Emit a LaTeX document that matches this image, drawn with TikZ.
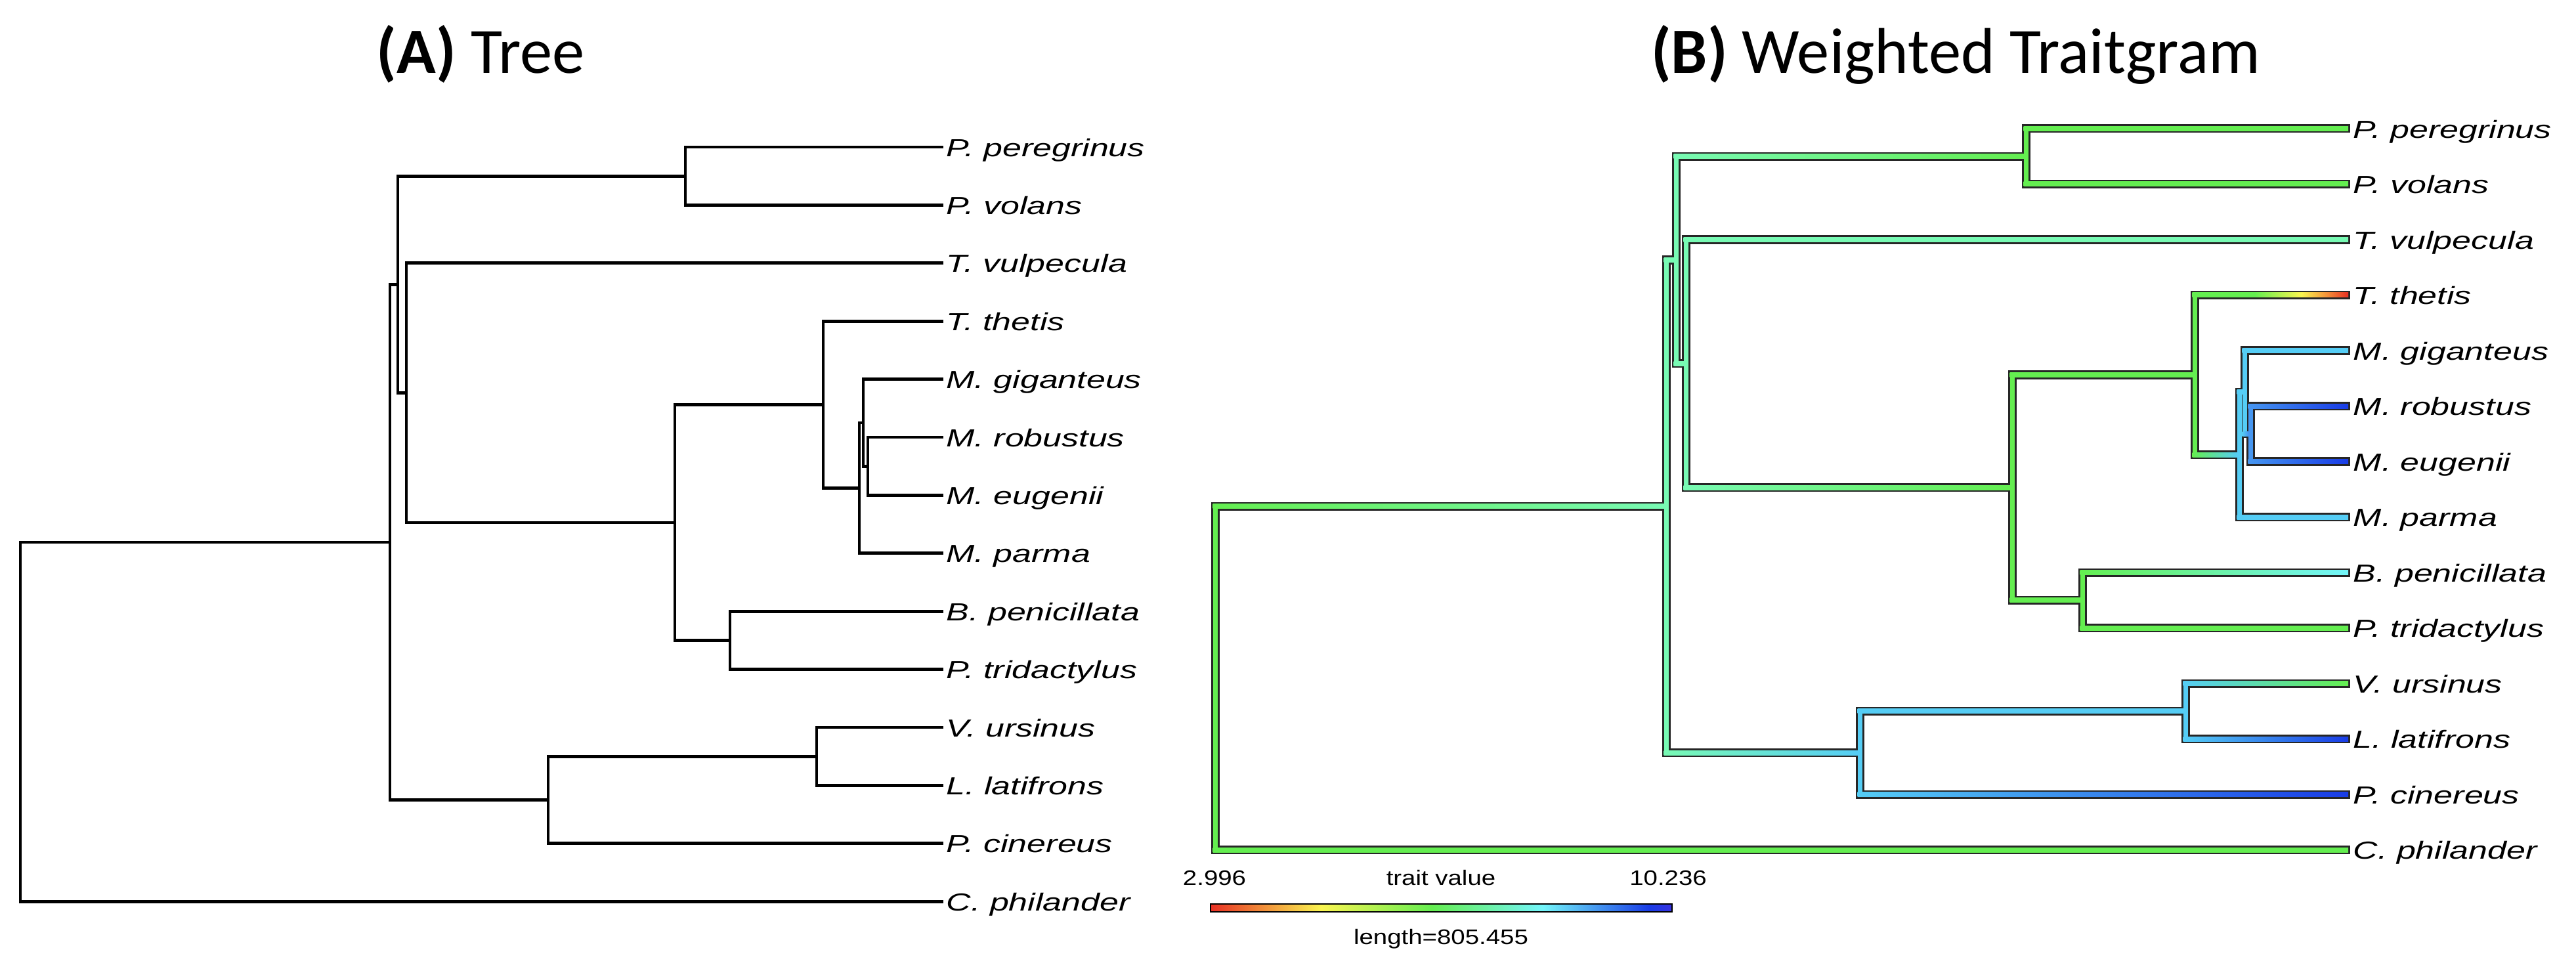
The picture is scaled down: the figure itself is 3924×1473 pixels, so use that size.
\documentclass[tikz,border=0pt]{standalone}
\usepackage{fontspec}
\usepackage{tikz}
\usetikzlibrary{calc}
\newfontfamily\titlefont{Carlito}
\newfontfamily\tipfont[FakeStretch=1.38]{Liberation Sans}
\newfontfamily\keyfont[FakeStretch=1.2]{Liberation Sans}

\definecolor{cRed}{RGB}{232,48,36}
\definecolor{cOrange}{RGB}{245,160,60}
\definecolor{cYellow}{RGB}{250,245,80}
\definecolor{cGreen}{RGB}{100,238,80}
\definecolor{cMint}{RGB}{120,250,180}
\definecolor{cCyan}{RGB}{115,245,250}
\definecolor{cSky}{RGB}{85,205,245}
\definecolor{cAzure}{RGB}{70,150,240}
\definecolor{cBlue}{RGB}{25,60,230}
\definecolor{cViolet}{RGB}{55,50,225}

\pgfdeclarehorizontalshading{traitbar}{100bp}{color(0bp)=(cRed); color(25bp)=(cRed);
  color(37bp)=(cYellow); color(49bp)=(cGreen); color(61bp)=(cCyan);
  color(72.5bp)=(cBlue); color(75bp)=(cViolet); color(100bp)=(cViolet)}
\pgfdeclarehorizontalshading{thetisfade}{100bp}{color(0bp)=(cGreen); color(45bp)=(cGreen);
  color(60bp)=(cYellow); color(67bp)=(cOrange); color(75bp)=(cRed); color(100bp)=(cRed)}

% coloured fill of one traitgram edge: parent, child, parent colour, child colour
\newcommand{\tgedge}[4]{%
  \fill[#3] ($(#1)+(-3.5,0)$) rectangle ($(#1 |- #2)+(3.5,0)$);
  \shade[left color=#3, right color=#4] ($(#1 |- #2)+(-3.5,-3.5)$) rectangle ($(#2)+(-3,3.5)$);
}

\begin{document}
\begin{tikzpicture}[x=0.01cm, y=-0.01cm,
    branch/.style={line width=1.35pt},
    tgline/.style={line width=0.13cm, black!85},
    tiplabel/.style={anchor=base west, inner sep=0, xshift=0.04cm, yshift=-0.14cm,
      font=\tipfont\itshape\fontsize{10.7}{12}\selectfont},
    keylabel/.style={anchor=base, inner sep=0, font=\keyfont\fontsize{9.1}{11}\selectfont},
    paneltitle/.style={anchor=base, inner sep=0, font=\titlefont\fontsize{28}{30}\selectfont}]
  \useasboundingbox (0,0) rectangle (3924,1473);

  %--- Titles
  \node[paneltitle] (ta) at (732,112) {\textbf{(A)} Tree};
  \node[paneltitle] (tb) at (2979,112) {\textbf{(B)} Weighted Traitgram};

  %--- tips and labels of both panels
  \foreach \t/\name [count=\i from 0] in {pper/P. peregrinus, pvol/P. volans, tvul/T. vulpecula,
      tthe/T. thetis, mgig/M. giganteus, mrob/M. robustus, meug/M. eugenii, mpar/M. parma,
      bpen/B. penicillata, ptri/P. tridactylus, vurs/V. ursinus, llat/L. latifrons,
      pcin/P. cinereus, cphi/C. philander} {
    \coordinate (a-\t) at (1437,{224+88.4*\i});
    \node[tiplabel] (la-\t) at (a-\t) {\name};
    \coordinate (b-\t) at (3580,{196+84.5*\i});
    \node[tiplabel] (lb-\t) at (b-\t) {\name};
  }

  %--- (A) internal nodes
  \coordinate (a-root) at (31,1099.6);
  \coordinate (a-n1)   at (594,825.9);
  \coordinate (a-n2)   at (606,433.3);
  \coordinate (a-n3)   at (619,598.3);
  \coordinate (a-pp)   at (1044,268.2);
  \coordinate (a-n4)   at (1028,795.9);
  \coordinate (a-n5)   at (1254,616.3);
  \coordinate (a-n6)   at (1309,743.4);
  \coordinate (a-n7)   at (1315,643.9);
  \coordinate (a-n8)   at (1322,710.2);
  \coordinate (a-nbp)  at (1112,975.4);
  \coordinate (a-n9)   at (835,1218.5);
  \coordinate (a-n10)  at (1244,1152.2);

  %--- (B) internal nodes
  \coordinate (b-root) at (1851,1032.9);
  \coordinate (b-n1)   at (2538,771.3);
  \coordinate (b-n2)   at (2553,396.0);
  \coordinate (b-n3)   at (2568,553.8);
  \coordinate (b-pp)   at (3086,238.3);
  \coordinate (b-n4)   at (3065,742.6);
  \coordinate (b-n5)   at (3343,571.0);
  \coordinate (b-n6)   at (3411,692.5);
  \coordinate (b-n7)   at (3419,597.4);
  \coordinate (b-n8)   at (3428,660.8);
  \coordinate (b-nbp)  at (3172,914.3);
  \coordinate (b-n9)   at (2833,1146.6);
  \coordinate (b-n10)  at (3329,1083.3);

  %--- (A) tree
  \foreach \p/\c in {root/n1, root/cphi, n1/n2, n1/n9, n2/pp, n2/n3, pp/pper, pp/pvol,
      n3/tvul, n3/n4, n4/n5, n4/nbp, n5/tthe, n5/n6, n6/n7, n6/mpar, n7/mgig, n7/n8,
      n8/mrob, n8/meug, nbp/bpen, nbp/ptri, n9/n10, n9/pcin, n10/vurs, n10/llat}
    \draw[branch] (a-\p) |- (a-\c);

  %--- (B) outlines first, then colours
  \foreach \p/\c in {root/n1, root/cphi, n1/n2, n1/n9, n2/pp, n2/n3, pp/pper, pp/pvol,
      n3/tvul, n3/n4, n4/n5, n4/nbp, n5/tthe, n5/n6, n6/n7, n6/mpar, n7/mgig, n7/n8,
      n8/mrob, n8/meug, nbp/bpen, nbp/ptri, n9/n10, n9/pcin, n10/vurs, n10/llat}
    \draw[tgline] (b-\p) |- (b-\c);
  \foreach \p/\c/\pc/\cc in {root/n1/cGreen/cMint, root/cphi/cGreen/cGreen,
      n1/n2/cMint/cMint, n1/n9/cMint/cSky, n2/pp/cMint/cGreen, n2/n3/cMint/cMint,
      pp/pper/cGreen/cGreen, pp/pvol/cGreen/cGreen, n3/tvul/cMint/cMint, n3/n4/cMint/cGreen,
      n4/n5/cGreen/cGreen, n4/nbp/cGreen/cGreen, n5/tthe/cGreen/cRed, n5/n6/cGreen/cSky,
      n6/n7/cSky/cSky, n6/mpar/cSky/cSky, n7/mgig/cSky/cSky, n7/n8/cSky/cAzure,
      n8/mrob/cAzure/cBlue, n8/meug/cAzure/cBlue, nbp/bpen/cGreen/cCyan,
      nbp/ptri/cGreen/cGreen, n9/n10/cSky/cSky, n9/pcin/cSky/cBlue,
      n10/vurs/cSky/cGreen, n10/llat/cSky/cBlue}
    \tgedge{b-\p}{b-\c}{\pc}{\cc};
  % T. thetis runs green -> yellow -> red
  \shade[shading=thetisfade] ($(b-n5 |- b-tthe)+(-3.5,-3.5)$) rectangle ($(b-tthe)+(-3,3.5)$);

  %--- Colour key
  \shade[shading=traitbar] (1844,1377) rectangle (2547,1389);
  \draw[line width=0.6pt] (1844,1377) rectangle (2547,1389);
  \node[keylabel] (kmin) at (1850,1348) {2.996};
  \node[keylabel] (kmid) at (2195,1348) {trait value};
  \node[keylabel] (kmax) at (2541,1348) {10.236};
  \node[keylabel] (klen) at (2195,1438) {length=805.455};
\end{tikzpicture}
\end{document}
